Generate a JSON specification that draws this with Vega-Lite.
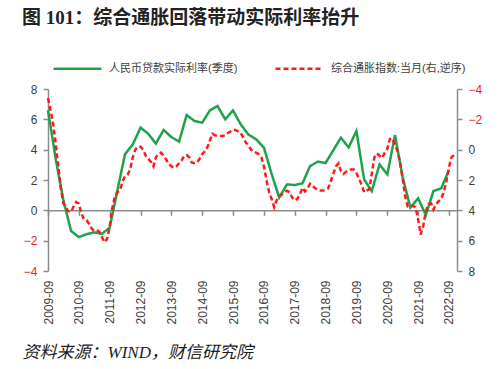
{
  "$schema": "https://vega.github.io/schema/vega-lite/v6.json",
  "autosize": "none",
  "width": 409,
  "height": 182,
  "padding": {"left": 48, "top": 89, "right": 43, "bottom": 98},
  "background": "white",
  "config": {
    "view": {"stroke": null},
    "font": "Liberation Sans, Noto Sans CJK SC"
  },
  "title": {
    "text": "图 101：综合通胀回落带动实际利率抬升",
    "anchor": "start",
    "frame": "group",
    "dx": -26,
    "offset": 15,
    "font": "Liberation Serif, Noto Sans CJK SC",
    "fontSize": 19,
    "fontWeight": "bold",
    "color": "#222222"
  },
  "datasets": {
    "loan": [{"d":"2009-09","v":6.6},{"d":"2009-12","v":3.4},{"d":"2010-03","v":0.7},{"d":"2010-06","v":-1.36},{"d":"2010-09","v":-1.76},{"d":"2010-12","v":-1.58},{"d":"2011-03","v":-1.45},{"d":"2011-06","v":-1.55},{"d":"2011-09","v":-1.15},{"d":"2011-12","v":1.3},{"d":"2012-03","v":3.7},{"d":"2012-06","v":4.35},{"d":"2012-09","v":5.45},{"d":"2012-12","v":5.05},{"d":"2013-03","v":4.4},{"d":"2013-06","v":5.3},{"d":"2013-09","v":4.83},{"d":"2013-12","v":4.53},{"d":"2014-03","v":6.28},{"d":"2014-06","v":5.89},{"d":"2014-09","v":5.78},{"d":"2014-12","v":6.59},{"d":"2015-03","v":6.88},{"d":"2015-06","v":6.0},{"d":"2015-09","v":6.59},{"d":"2015-12","v":5.67},{"d":"2016-03","v":5.0},{"d":"2016-06","v":4.68},{"d":"2016-09","v":4.13},{"d":"2016-12","v":2.4},{"d":"2017-03","v":0.84},{"d":"2017-06","v":1.71},{"d":"2017-09","v":1.67},{"d":"2017-12","v":1.78},{"d":"2018-03","v":2.92},{"d":"2018-06","v":3.21},{"d":"2018-09","v":3.12},{"d":"2018-12","v":3.96},{"d":"2019-03","v":4.79},{"d":"2019-06","v":4.15},{"d":"2019-09","v":5.23},{"d":"2019-12","v":2.04},{"d":"2020-03","v":1.27},{"d":"2020-06","v":3.03},{"d":"2020-09","v":2.37},{"d":"2020-12","v":4.96},{"d":"2021-03","v":2.2},{"d":"2021-06","v":0.18},{"d":"2021-09","v":0.79},{"d":"2021-12","v":-0.31},{"d":"2022-03","v":1.27},{"d":"2022-06","v":1.45},{"d":"2022-09","v":2.65}],
    "cpi": [{"d":"2009-09","v":-3.4},{"d":"2009-10","v":-2.6},{"d":"2009-11","v":-1.7},{"d":"2009-12","v":-0.4},{"d":"2010-01","v":1.1},{"d":"2010-02","v":2.6},{"d":"2010-03","v":3.5},{"d":"2010-04","v":3.85},{"d":"2010-05","v":4.05},{"d":"2010-06","v":4.1},{"d":"2010-07","v":3.75},{"d":"2010-08","v":3.45},{"d":"2010-09","v":3.55},{"d":"2010-10","v":4.2},{"d":"2010-11","v":4.6},{"d":"2010-12","v":4.65},{"d":"2011-01","v":4.9},{"d":"2011-02","v":5.2},{"d":"2011-03","v":5.35},{"d":"2011-04","v":5.3},{"d":"2011-05","v":5.4},{"d":"2011-06","v":5.75},{"d":"2011-07","v":6.1},{"d":"2011-08","v":5.9},{"d":"2011-09","v":5.1},{"d":"2011-10","v":3.9},{"d":"2011-11","v":3.1},{"d":"2011-12","v":2.8},{"d":"2012-01","v":2.7},{"d":"2012-02","v":2.1},{"d":"2012-03","v":1.75},{"d":"2012-04","v":1.65},{"d":"2012-05","v":1.3},{"d":"2012-06","v":0.5},{"d":"2012-07","v":0.0},{"d":"2012-08","v":-0.2},{"d":"2012-09","v":-0.2},{"d":"2012-10","v":0.0},{"d":"2012-11","v":0.4},{"d":"2012-12","v":0.6},{"d":"2013-01","v":0.8},{"d":"2013-02","v":1.1},{"d":"2013-03","v":0.5},{"d":"2013-04","v":0.3},{"d":"2013-05","v":0.2},{"d":"2013-06","v":0.4},{"d":"2013-07","v":0.65},{"d":"2013-08","v":0.95},{"d":"2013-09","v":1.1},{"d":"2013-10","v":1.2},{"d":"2013-11","v":1.1},{"d":"2013-12","v":0.9},{"d":"2014-01","v":0.7},{"d":"2014-02","v":0.4},{"d":"2014-03","v":0.35},{"d":"2014-04","v":0.5},{"d":"2014-05","v":0.85},{"d":"2014-06","v":0.9},{"d":"2014-07","v":0.85},{"d":"2014-08","v":0.6},{"d":"2014-09","v":0.3},{"d":"2014-10","v":0.1},{"d":"2014-11","v":-0.15},{"d":"2014-12","v":-0.6},{"d":"2015-01","v":-1.05},{"d":"2015-02","v":-0.95},{"d":"2015-03","v":-0.9},{"d":"2015-04","v":-0.9},{"d":"2015-05","v":-0.9},{"d":"2015-06","v":-0.95},{"d":"2015-07","v":-1.1},{"d":"2015-08","v":-1.2},{"d":"2015-09","v":-1.3},{"d":"2015-10","v":-1.3},{"d":"2015-11","v":-1.2},{"d":"2015-12","v":-1.1},{"d":"2016-01","v":-0.8},{"d":"2016-02","v":-0.45},{"d":"2016-03","v":-0.3},{"d":"2016-04","v":0.0},{"d":"2016-05","v":0.15},{"d":"2016-06","v":0.2},{"d":"2016-07","v":0.3},{"d":"2016-08","v":0.5},{"d":"2016-09","v":1.1},{"d":"2016-10","v":2.0},{"d":"2016-11","v":2.8},{"d":"2016-12","v":3.25},{"d":"2017-01","v":3.8},{"d":"2017-02","v":3.3},{"d":"2017-03","v":3.05},{"d":"2017-04","v":2.95},{"d":"2017-05","v":2.8},{"d":"2017-06","v":2.7},{"d":"2017-07","v":2.8},{"d":"2017-08","v":3.15},{"d":"2017-09","v":3.35},{"d":"2017-10","v":3.25},{"d":"2017-11","v":2.95},{"d":"2017-12","v":2.5},{"d":"2018-01","v":2.75},{"d":"2018-02","v":2.55},{"d":"2018-03","v":2.25},{"d":"2018-04","v":2.4},{"d":"2018-05","v":2.55},{"d":"2018-06","v":2.65},{"d":"2018-07","v":2.7},{"d":"2018-08","v":2.7},{"d":"2018-09","v":2.65},{"d":"2018-10","v":2.55},{"d":"2018-11","v":2.1},{"d":"2018-12","v":1.6},{"d":"2019-01","v":1.1},{"d":"2019-02","v":0.9},{"d":"2019-03","v":1.4},{"d":"2019-04","v":1.6},{"d":"2019-05","v":1.45},{"d":"2019-06","v":1.35},{"d":"2019-07","v":1.3},{"d":"2019-08","v":1.3},{"d":"2019-09","v":1.55},{"d":"2019-10","v":1.9},{"d":"2019-11","v":2.3},{"d":"2019-12","v":2.8},{"d":"2020-01","v":2.7},{"d":"2020-02","v":2.6},{"d":"2020-03","v":1.6},{"d":"2020-04","v":0.5},{"d":"2020-05","v":0.25},{"d":"2020-06","v":0.4},{"d":"2020-07","v":0.55},{"d":"2020-08","v":0.2},{"d":"2020-09","v":-0.05},{"d":"2020-10","v":-0.7},{"d":"2020-11","v":-0.75},{"d":"2020-12","v":-0.3},{"d":"2021-01","v":0.1},{"d":"2021-02","v":0.9},{"d":"2021-03","v":1.9},{"d":"2021-04","v":3.1},{"d":"2021-05","v":3.75},{"d":"2021-06","v":3.78},{"d":"2021-07","v":3.7},{"d":"2021-08","v":3.8},{"d":"2021-09","v":4.6},{"d":"2021-10","v":5.6},{"d":"2021-11","v":5.0},{"d":"2021-12","v":4.1},{"d":"2022-01","v":3.6},{"d":"2022-02","v":3.55},{"d":"2022-03","v":3.95},{"d":"2022-04","v":3.6},{"d":"2022-05","v":3.4},{"d":"2022-06","v":3.25},{"d":"2022-07","v":2.8},{"d":"2022-08","v":2.1},{"d":"2022-09","v":1.15},{"d":"2022-10","v":0.5},{"d":"2022-11","v":0.35}]
  },
  "layer": [
    {
      "data": {"name": "loan"},
      "mark": {"type": "line", "strokeWidth": 2.5},
      "encoding": {
        "x": {
          "field": "d", "type": "temporal",
          "scale": {"type": "utc", "domain": [{"year": 2009, "month": 9, "date": 1, "utc": true}, {"year": 2022, "month": 12, "date": 5, "utc": true}], "nice": false},
          "axis": {
            "orient": "bottom", "offset": -60.7, "labels": false, "title": null, "grid": false,
            "domainColor": "#8c8c8c", "domainWidth": 1.5, "tickColor": "#8c8c8c", "tickWidth": 1.5, "tickSize": 5,
            "values": [{"year":2009,"month":9,"date":1,"utc":true},{"year":2010,"month":9,"date":1,"utc":true},{"year":2011,"month":9,"date":1,"utc":true},{"year":2012,"month":9,"date":1,"utc":true},{"year":2013,"month":9,"date":1,"utc":true},{"year":2014,"month":9,"date":1,"utc":true},{"year":2015,"month":9,"date":1,"utc":true},{"year":2016,"month":9,"date":1,"utc":true},{"year":2017,"month":9,"date":1,"utc":true},{"year":2018,"month":9,"date":1,"utc":true},{"year":2019,"month":9,"date":1,"utc":true},{"year":2020,"month":9,"date":1,"utc":true},{"year":2021,"month":9,"date":1,"utc":true},{"year":2022,"month":9,"date":1,"utc":true}]
          }
        },
        "y": {
          "field": "v", "type": "quantitative",
          "scale": {"domain": [-4, 8], "nice": false, "zero": false},
          "axis": {
            "orient": "left", "title": null, "grid": false, "values": [-4, -2, 0, 2, 4, 6, 8],
            "domainColor": "#8c8c8c", "domainWidth": 1.5, "tickColor": "#8c8c8c", "tickWidth": 1.5, "tickSize": 5,
            "labelFontSize": 12, "labelPadding": 6,
            "labelColor": {"condition": {"test": "datum.value < 0", "value": "#e8202a"}, "value": "#404040"}
          }
        },
        "color": {
          "datum": "人民币贷款实际利率(季度)",
          "scale": {"domain": ["人民币贷款实际利率(季度)", "综合通胀指数:当月(右,逆序)"], "range": ["#1ea24b", "#ff1a1a"]},
          "legend": {
            "orient": "none", "legendX": 4, "legendY": -46, "direction": "horizontal", "title": null,
            "symbolType": "stroke", "symbolSize": 2300, "symbolStrokeWidth": 2.5,
            "labelFontSize": 11, "labelColor": "#404040", "labelOffset": 6, "columnPadding": 32, "padding": 0, "labelLimit": 300
          }
        },
        "strokeDash": {
          "datum": "人民币贷款实际利率(季度)",
          "scale": {"domain": ["人民币贷款实际利率(季度)", "综合通胀指数:当月(右,逆序)"], "range": [[1, 0], [5, 3]]},
          "legend": {
            "orient": "none", "legendX": 4, "legendY": -46, "direction": "horizontal", "title": null,
            "symbolType": "stroke", "symbolSize": 2300, "symbolStrokeWidth": 2.5,
            "labelFontSize": 11, "labelColor": "#404040", "labelOffset": 6, "columnPadding": 32, "padding": 0, "labelLimit": 300
          }
        }
      }
    },
    {
      "data": {"name": "cpi"},
      "mark": {"type": "line", "strokeWidth": 2.5},
      "encoding": {
        "x": {
          "field": "d", "type": "temporal",
          "axis": {
            "orient": "bottom", "domain": false, "ticks": false, "grid": false,
            "labelAngle": -90, "labelPadding": 9, "labelFontSize": 12, "labelColor": "#404040",
            "labelExpr": "utcFormat(datum.value, '%Y-%m')",
            "values": [{"year":2009,"month":9,"date":1,"utc":true},{"year":2010,"month":9,"date":1,"utc":true},{"year":2011,"month":9,"date":1,"utc":true},{"year":2012,"month":9,"date":1,"utc":true},{"year":2013,"month":9,"date":1,"utc":true},{"year":2014,"month":9,"date":1,"utc":true},{"year":2015,"month":9,"date":1,"utc":true},{"year":2016,"month":9,"date":1,"utc":true},{"year":2017,"month":9,"date":1,"utc":true},{"year":2018,"month":9,"date":1,"utc":true},{"year":2019,"month":9,"date":1,"utc":true},{"year":2020,"month":9,"date":1,"utc":true},{"year":2021,"month":9,"date":1,"utc":true},{"year":2022,"month":9,"date":1,"utc":true}],
            "title": "资料来源：WIND，财信研究院",
            "titleAnchor": "start", "titleAlign": "left", "titleBaseline": "middle",
            "titleX": -26, "titleY": 81,
            "titleFont": "Liberation Serif, Noto Sans CJK SC", "titleFontSize": 17, "titleFontStyle": "italic", "titleFontWeight": "normal", "titleColor": "#222222"
          }
        },
        "y": {
          "field": "v", "type": "quantitative",
          "scale": {"domain": [-4, 8], "nice": false, "zero": false, "reverse": true},
          "axis": {
            "orient": "right", "title": null, "grid": false, "values": [-4, -2, 0, 2, 4, 6, 8],
            "domainColor": "#8c8c8c", "domainWidth": 1.5, "tickColor": "#8c8c8c", "tickWidth": 1.5, "tickSize": 5,
            "labelFontSize": 12, "labelPadding": 6,
            "labelColor": {"condition": {"test": "datum.value < 0", "value": "#e8202a"}, "value": "#404040"}
          }
        },
        "color": {"datum": "综合通胀指数:当月(右,逆序)"},
        "strokeDash": {"datum": "综合通胀指数:当月(右,逆序)"}
      }
    }
  ],
  "resolve": {"scale": {"y": "independent"}, "axis": {"x": "independent"}}
}
